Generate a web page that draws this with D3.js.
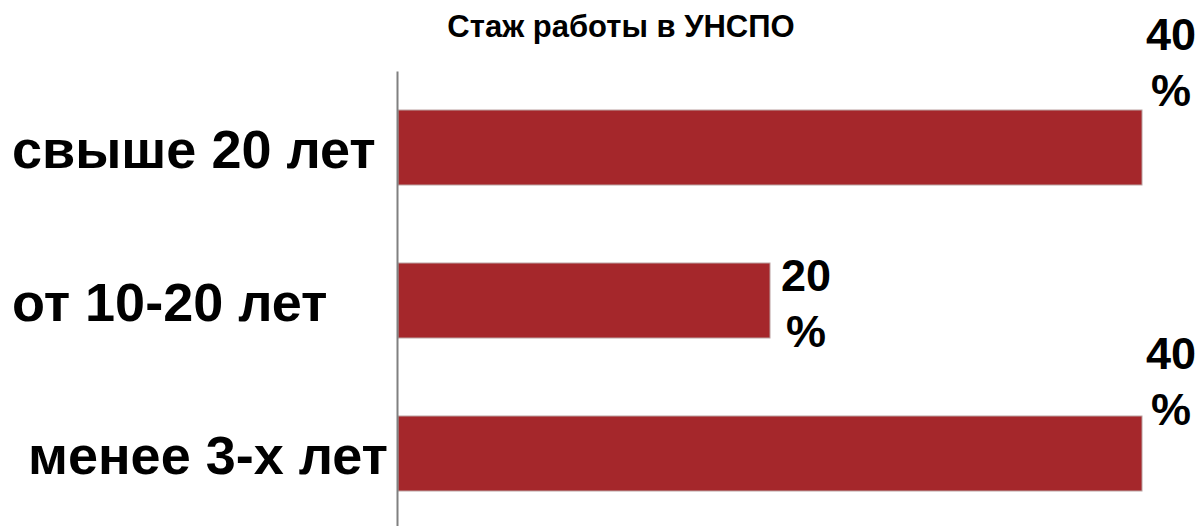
<!DOCTYPE html>
<html lang="ru">
<head>
  <meta charset="utf-8">
  <title>Стаж работы в УНСПО</title>
  <script src="https://cdn.jsdelivr.net/npm/d3@7"></script>
  <style>
    body { margin: 0; background: #fff; }
    svg text { font-family: 'Liberation Sans', Arial, sans-serif; font-weight: bold; fill: #000; }
  </style>
</head>
<body>
<script>
// data
var categories = ["свыше 20 лет", "от 10-20 лет", "менее 3-х лет"];
var values = [40, 20, 40];
var xDomain = [0, 40];

// hand-placed label offsets (layout only)
var catLabelX = [12, 12, 28];
var valDx = [29, 36, 29];
var valDy = [-88, 0, -75];

var w = 1202, h = 526;

var svg = d3.select("body").append("svg")
  .attr("width", w)
  .attr("height", h);

var x = d3.scaleLinear().domain(xDomain).range([398, 1142]);
var y = d3.scaleBand().domain(categories).range([71, 530])
  .paddingInner(0.51).paddingOuter(0.255);

svg.append("text")
  .attr("x", 621)
  .attr("y", 37)
  .attr("text-anchor", "middle")
  .style("font-size", "31px")
  .text("Стаж работы в УНСПО");

svg.selectAll("rect.bar")
  .data(values)
  .enter()
  .append("rect")
  .attr("class", "bar")
  .attr("x", x(0))
  .attr("y", function(d, i) { return y(categories[i]); })
  .attr("width", function(d) { return x(d) - x(0); })
  .attr("height", y.bandwidth())
  .style("fill", "#a5272b")
  .style("stroke", "#b9a0a0")
  .style("stroke-width", 1);

// vertical axis line
var axis = svg.append("g")
  .attr("transform", "translate(397,0)")
  .call(d3.axisLeft(y).tickSize(0).tickFormat(""));
axis.select(".domain").style("stroke", "#808080").style("stroke-width", 2);

// category labels
svg.selectAll("text.cat")
  .data(categories)
  .enter()
  .append("text")
  .attr("class", "cat")
  .attr("x", function(d, i) { return catLabelX[i]; })
  .attr("y", function(d) { return y(d) + y.bandwidth() / 2 + 20; })
  .style("font-size", "54px")
  .text(function(d) { return d; });

// value labels, wrapped on two lines
var vl = svg.selectAll("text.val")
  .data(values)
  .enter()
  .append("text")
  .attr("class", "val")
  .attr("text-anchor", "middle")
  .style("font-size", "45px");

vl.append("tspan")
  .attr("x", function(d, i) { return x(d) + valDx[i]; })
  .attr("y", function(d, i) { return y(categories[i]) + y.bandwidth() / 2 + valDy[i] - 10; })
  .text(function(d) { return d; });

vl.append("tspan")
  .attr("x", function(d, i) { return x(d) + valDx[i]; })
  .attr("y", function(d, i) { return y(categories[i]) + y.bandwidth() / 2 + valDy[i] + 46; })
  .text("%");
</script>
</body>
</html>
